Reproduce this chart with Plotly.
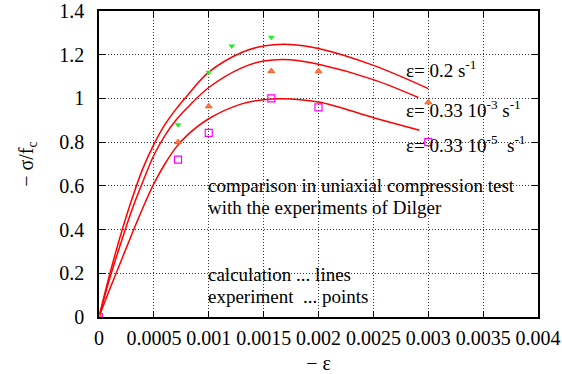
import plotly.graph_objects as go

# calculated curves (lines)
calc1_eps = [0, 0.0001, 0.0002, 0.0003, 0.0004, 0.0005, 0.0006, 0.0007, 0.0008, 0.001, 0.0013, 0.0015, 0.00174, 0.002, 0.0025, 0.003]
calc1_sig = [0, 0.2, 0.38, 0.54, 0.68, 0.79, 0.88, 0.95, 1.01, 1.12, 1.21, 1.24, 1.247, 1.228, 1.151, 1.045]
calc2_eps = [0, 0.0001, 0.0002, 0.0003, 0.0004, 0.0005, 0.0006, 0.0007, 0.0008, 0.001, 0.0013, 0.0015, 0.00174, 0.002, 0.0025, 0.00291]
calc2_sig = [0, 0.18, 0.34, 0.49, 0.62, 0.74, 0.83, 0.90, 0.955, 1.05, 1.14, 1.171, 1.177, 1.156, 1.086, 1.004]
calc3_eps = [0, 0.0001, 0.0002, 0.0003, 0.0004, 0.0005, 0.0006, 0.0007, 0.0008, 0.001, 0.0013, 0.0015, 0.00165, 0.002, 0.0025, 0.00292]
calc3_sig = [0, 0.13, 0.255, 0.38, 0.50, 0.61, 0.70, 0.775, 0.83, 0.907, 0.975, 0.994, 0.999, 0.984, 0.912, 0.854]

# experiments (points)
exp1_eps = [0, 0.00072, 0.001, 0.00121, 0.00157]
exp1_sig = [0, 0.88, 1.12, 1.24, 1.28]
exp2_eps = [0, 0.00072, 0.001, 0.00157, 0.002, 0.003]
exp2_sig = [0, 0.80, 0.964, 1.125, 1.124, 0.982]
exp3_eps = [0, 0.00072, 0.001, 0.00157, 0.002, 0.003]
exp3_sig = [0, 0.72, 0.842, 1.0, 0.959, 0.80]

x_ticks = [0, 0.0005, 0.001, 0.0015, 0.002, 0.0025, 0.003, 0.0035, 0.004]
x_tick_labels = ["0", "0.0005", "0.001", "0.0015", "0.002", "0.0025", "0.003", "0.0035", "0.004"]
y_ticks = [0, 0.2, 0.4, 0.6, 0.8, 1.0, 1.2, 1.4]
y_tick_labels = ["0", "0.2", "0.4", "0.6", "0.8", "1", "1.2", "1.4"]

FONT = "Times New Roman, Liberation Serif, DejaVu Serif, serif"

fig = go.Figure()
for xs, ys in [(calc1_eps, calc1_sig), (calc2_eps, calc2_sig), (calc3_eps, calc3_sig)]:
    fig.add_trace(go.Scatter(x=xs, y=ys, mode="lines",
                             line=dict(color="#ff0000", width=1.5, shape="spline", smoothing=1.0),
                             showlegend=False, hoverinfo="skip"))

fig.add_trace(go.Scatter(x=exp1_eps, y=exp1_sig, mode="markers", showlegend=False,
                         marker=dict(symbol="triangle-down", size=6, color="#22ee22")))
fig.add_trace(go.Scatter(x=exp2_eps, y=exp2_sig, mode="markers", showlegend=False,
                         marker=dict(symbol="triangle-up", size=6, color="#ff7a3a",
                                     line=dict(color="#ff5a1a", width=1))))
fig.add_trace(go.Scatter(x=exp3_eps, y=exp3_sig, mode="markers", showlegend=False,
                         marker=dict(symbol="square-open", size=7, color="#ff00ff",
                                     line=dict(color="#ff00ff", width=1.2))))

ann_font = dict(family=FONT, size=19, color="black")
txt_font = dict(family=FONT, size=19, color="black")
notes = [
    (0.00281, 1.134, "ε= 0.2 s<sup>-1</sup>", ann_font),
    (0.00281, 0.950, "ε= 0.33 10<sup>-3</sup> s<sup>-1</sup>", ann_font),
    (0.00281, 0.790, "ε= 0.33 10<sup>-5</sup>  s<sup>-1</sup>", ann_font),
    (0.00100, 0.600, "comparison in uniaxial compression test", txt_font),
    (0.00100, 0.500, "with the experiments of Dilger", txt_font),
    (0.00100, 0.195, "calculation ... lines", txt_font),
    (0.00100, 0.093, "experiment  ... points", txt_font),
]
for x, y, t, f in notes:
    fig.add_annotation(x=x, y=y, text=t, showarrow=False, xanchor="left", yanchor="middle",
                       font=f, xref="x", yref="y", xshift=-3)

axis_common = dict(showline=True, linecolor="black", linewidth=1.5, mirror="ticks",
                   ticks="inside", ticklen=6, tickcolor="black", tickwidth=1,
                   showgrid=True, gridcolor="#333333", gridwidth=1, griddash="1px,2px",
                   zeroline=False, automargin=False)

fig.update_xaxes(range=[0, 0.004], tickvals=x_ticks, ticktext=x_tick_labels,
                 tickfont=dict(family=FONT, size=20, color="black"), ticklabelstandoff=2,
                 title=dict(text="− ε", font=dict(family=FONT, size=20, color="black"), standoff=13),
                 **axis_common)
fig.update_yaxes(range=[0, 1.4], tickvals=y_ticks, ticktext=y_tick_labels,
                 tickfont=dict(family=FONT, size=20, color="black"), ticklabelstandoff=9,
                 title=dict(text="− σ/f<sub>c</sub>", font=dict(family=FONT, size=20, color="black"), standoff=20),
                 **axis_common)

fig.update_layout(width=562, height=374, margin=dict(l=99, r=24, t=11, b=57),
                  plot_bgcolor="white", paper_bgcolor="white",
                  font=dict(family=FONT, color="black", size=20))

fig.write_html("out.html")
